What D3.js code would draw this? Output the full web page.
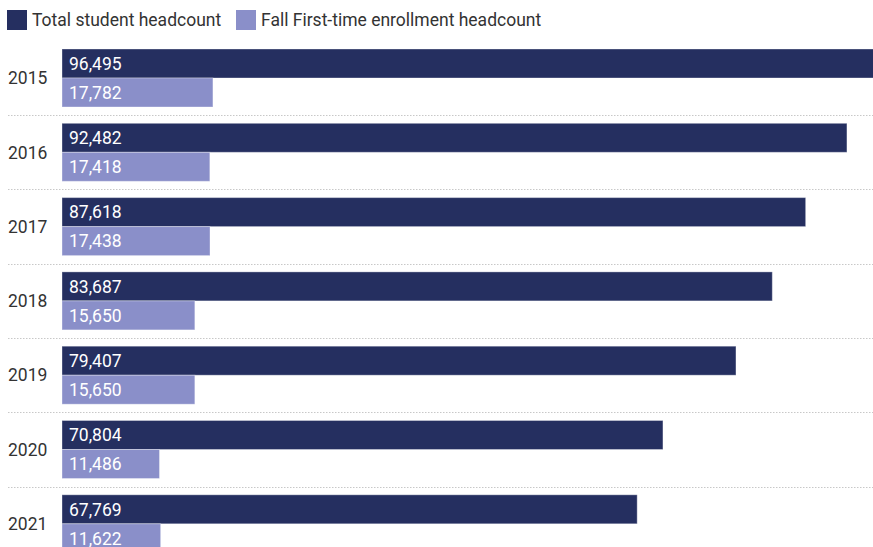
<!DOCTYPE html>
<html>
<head>
<meta charset="utf-8">
<script src="https://cdn.jsdelivr.net/npm/d3@7"></script>
<style>
  html, body { margin: 0; padding: 0; background: #fff; }
  svg { display: block; font-family: Roboto, "Noto Sans", sans-serif; }
</style>
</head>
<body>
<svg id="chart" width="873" height="547"></svg>
<script>
// Enrollment by year
const years = ["2015", "2016", "2017", "2018", "2019", "2020", "2021"];
const totalHeadcount = [96495, 92482, 87618, 83687, 79407, 70804, 67769];
const firstTimeHeadcount = [17782, 17418, 17438, 15650, 15650, 11486, 11622];
const seriesNames = ["Total student headcount", "Fall First-time enrollment headcount"];
const seriesColors = ["#252f60", "#8a8fc9"];

const width = 873, height = 547;
const fontSize = 17.5;
const svg = d3.select("#chart");

const left = 62;
const x = d3.scaleLinear().domain([0, 96495]).range([left, 881]);

// one band per year; each band holds the two bars
const rowStep = 74.3;
const gap = 16.3;
const y = d3.scaleBand()
  .domain(years)
  .range([49 - gap / 2, 49 - gap / 2 + rowStep * years.length])
  .paddingInner(gap / rowStep)
  .paddingOuter(gap / rowStep / 2);
const inner = d3.scaleBand()
  .domain([0, 1])
  .range([0, y.bandwidth()]);

const fmt = d3.format(",");

// dotted separators between years
svg.append("g")
  .selectAll("line")
  .data(years.slice(1))
  .join("line")
  .attr("x1", 8)
  .attr("x2", width)
  .attr("y1", d => Math.round(y(d) - gap / 2) + 0.5)
  .attr("y2", d => Math.round(y(d) - gap / 2) + 0.5)
  .attr("stroke", "#c8c8c8")
  .attr("stroke-width", 1)
  .attr("stroke-dasharray", "1.5,1.5");

const series = [totalHeadcount, firstTimeHeadcount];

const groups = svg.append("g")
  .selectAll("g")
  .data(years)
  .join("g")
  .attr("transform", d => `translate(0,${y(d)})`);

groups.each(function (year, i) {
  const g = d3.select(this);
  series.forEach((vals, s) => {
    const v = vals[i];
    g.append("rect")
      .attr("x", x(0))
      .attr("y", inner(s))
      .attr("width", x(v) - x(0))
      .attr("height", inner.bandwidth())
      .attr("fill", seriesColors[s])
      .attr("stroke", "rgba(255,255,255,0.35)")
      .attr("stroke-width", 1);
    g.append("text")
      .attr("x", x(0) + 7)
      .attr("y", inner(s) + inner.bandwidth() / 2)
      .attr("dy", "0.36em")
      .attr("fill", "#fff")
      .attr("font-size", fontSize)
      .text(fmt(v));
  });
  g.append("text")
    .attr("x", 8)
    .attr("y", y.bandwidth() / 2)
    .attr("dy", "0.36em")
    .attr("fill", "#333")
    .attr("font-size", fontSize)
    .text(year);
});

// legend
const legendX = [7, 236];
const legend = svg.append("g")
  .selectAll("g")
  .data(seriesNames)
  .join("g")
  .attr("transform", (d, i) => `translate(${legendX[i]},10)`);
legend.append("rect")
  .attr("width", 20)
  .attr("height", 20)
  .attr("fill", (d, i) => seriesColors[i]);
legend.append("text")
  .attr("x", 25)
  .attr("y", 10)
  .attr("dy", "0.36em")
  .attr("fill", "#333")
  .attr("font-size", fontSize)
  .text(d => d);
</script>
</body>
</html>
